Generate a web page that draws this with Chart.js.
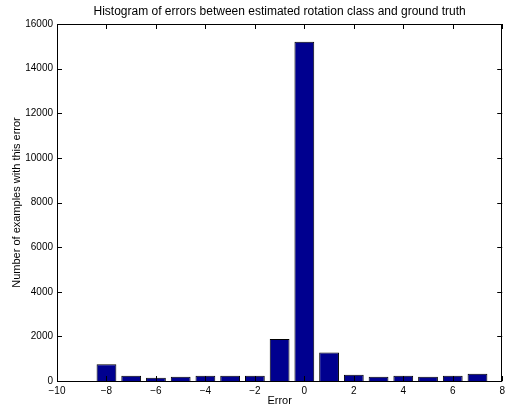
<!DOCTYPE html>
<html>
<head>
<meta charset="utf-8">
<script src="https://cdn.jsdelivr.net/npm/chart.js@4"></script>
<style>
  html, body { margin: 0; padding: 0; background: #fff; }
  #wrap { width: 509px; height: 406px; }
</style>
</head>
<body>
<div id="wrap"><canvas id="myChart"></canvas></div>
<script>
const errors = [-8, -7, -6, -5, -4, -3, -2, -1, 0, 1, 2, 3, 4, 5, 6, 7];
const counts = [750, 240, 150, 190, 240, 240, 240, 1880, 15200, 1280, 280, 190, 240, 190, 240, 330];
const xTicks = [-10, -8, -6, -4, -2, 0, 2, 4, 6, 8];
const yTicks = [0, 2000, 4000, 6000, 8000, 10000, 12000, 14000, 16000];

const font = 'Liberation Sans, Arial, Helvetica, sans-serif';

// box round the plot area with inward ticks, like matlab
const frame = {
  id: 'frame',
  afterDatasetsDraw(chart) {
    const { ctx, chartArea: a, scales } = chart;
    ctx.save();
    ctx.strokeStyle = '#000';
    ctx.lineWidth = 1;
    ctx.beginPath();
    xTicks.forEach(v => {
      const px = Math.round(scales.x.getPixelForValue(v)) + 0.5;
      ctx.moveTo(px, a.bottom); ctx.lineTo(px, a.bottom - 5);
      ctx.moveTo(px, a.top); ctx.lineTo(px, a.top + 5);
    });
    yTicks.forEach(v => {
      const py = Math.round(scales.y.getPixelForValue(v)) + 0.5;
      ctx.moveTo(a.left, py); ctx.lineTo(a.left + 5, py);
      ctx.moveTo(a.right, py); ctx.lineTo(a.right - 5, py);
    });
    ctx.stroke();
    ctx.strokeRect(Math.round(a.left) + 0.5, Math.round(a.top) + 0.5,
      Math.round(a.right - a.left) - 1, Math.round(a.bottom - a.top));
    ctx.restore();
  }
};

new Chart(document.getElementById('myChart'), {
  type: 'bar',
  data: {
    datasets: [{
      data: errors.map((e, i) => ({ x: e, y: counts[i] })),
      backgroundColor: '#00008f',
      borderColor: '#000',
      borderWidth: 1,
      barPercentage: 0.8,
      categoryPercentage: 1
    }]
  },
  options: {
    responsive: true,
    maintainAspectRatio: false,
    animation: false,
    layout: { padding: { right: 1 } },
    plugins: {
      legend: { display: false },
      tooltip: { enabled: false }
    },
    scales: {
      x: {
        type: 'linear',
        min: -10,
        max: 8,
        offset: false,
        grid: { display: false, drawTicks: false, tickLength: 0 },
        border: { display: false },
        afterBuildTicks: s => { s.ticks = xTicks.map(v => ({ value: v })); },
        afterFit: s => { s.height = 25; },
        ticks: {
          color: '#000',
          padding: 4,
          maxRotation: 0,
          font: { family: font, size: 10 },
          callback: v => String(v).replace('-', '\u2212')
        },
        title: {
          display: true,
          text: 'Error',
          color: '#000',
          font: { family: font, size: 11 },
          padding: { top: 0, bottom: -2 }
        }
      },
      // top axis only carries the title, so it is centred over the plot
      top: {
        type: 'linear',
        position: 'top',
        min: -10,
        max: 8,
        grid: { display: false, drawTicks: false, tickLength: 0 },
        border: { display: false },
        ticks: { display: false },
        afterFit: s => { s.height = 24; },
        title: {
          display: true,
          text: 'Histogram of errors between estimated rotation class and ground truth',
          color: '#000',
          font: { family: font, size: 12 },
          padding: { top: 4, bottom: 0 }
        }
      },
      y: {
        min: 0,
        max: 16000,
        grid: { display: false, drawTicks: false, tickLength: 0 },
        border: { display: false },
        afterBuildTicks: s => { s.ticks = yTicks.map(v => ({ value: v })); },
        afterFit: s => { s.width = 57; },
        ticks: {
          color: '#000',
          padding: 4,
          font: { family: font, size: 10 },
          callback: v => String(v)
        },
        title: {
          display: true,
          text: 'Number of examples with this error',
          color: '#000',
          font: { family: font, size: 11 },
          padding: { top: 10, bottom: 0 }
        }
      }
    }
  },
  plugins: [frame]
});
</script>
</body>
</html>
